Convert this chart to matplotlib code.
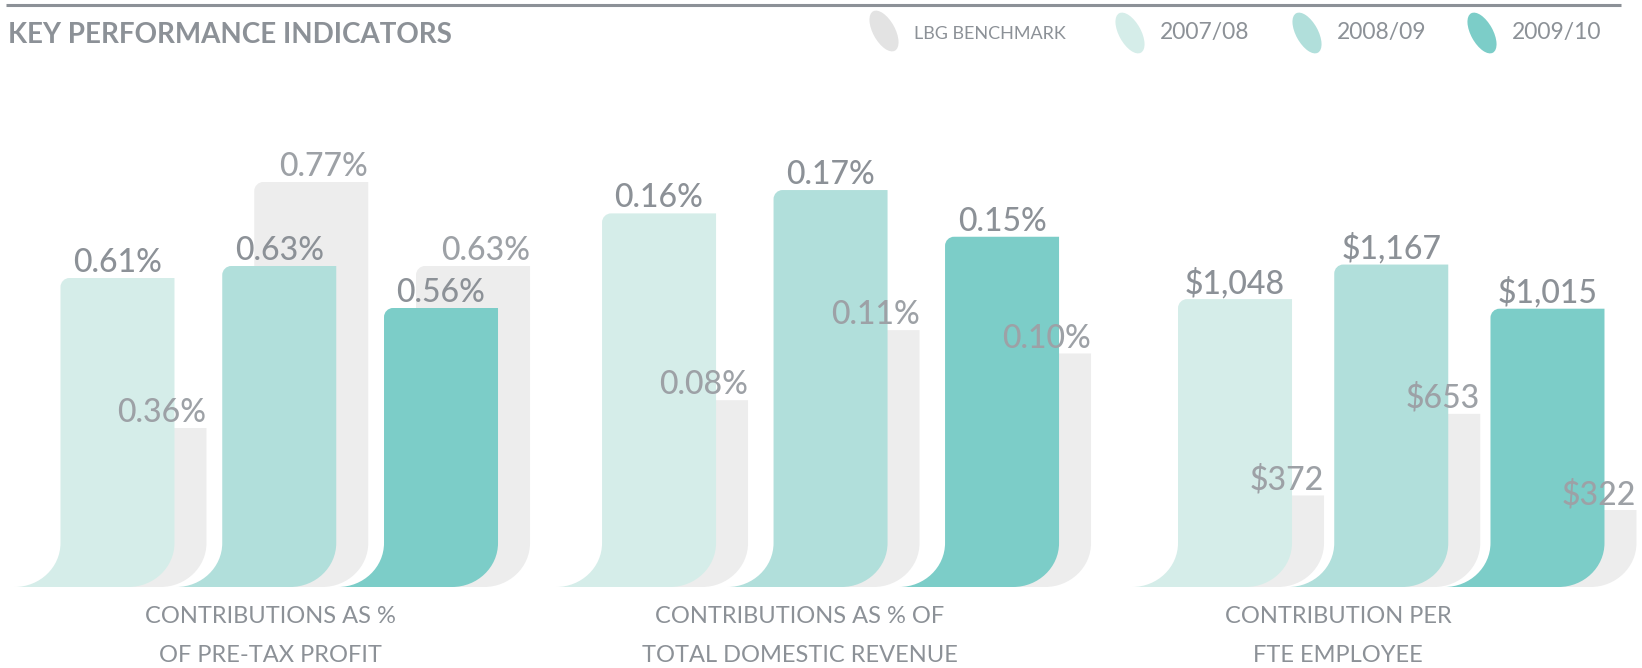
import matplotlib
matplotlib.use('Agg')
import matplotlib.pyplot as plt
from matplotlib.path import Path
from matplotlib.patches import PathPatch, Ellipse

# data
years = ['2007/08', '2008/09', '2009/10']
benchmark_name = 'LBG BENCHMARK'
categories = ['CONTRIBUTIONS AS %\nOF PRE-TAX PROFIT',
              'CONTRIBUTIONS AS % OF\nTOTAL DOMESTIC REVENUE',
              'CONTRIBUTION PER\nFTE EMPLOYEE']
pct_profit = [0.61, 0.63, 0.56]
pct_profit_lbg = [0.36, 0.77, 0.63]
pct_revenue = [0.16, 0.17, 0.15]
pct_revenue_lbg = [0.08, 0.11, 0.10]
per_fte = [1048, 1167, 1015]
per_fte_lbg = [372, 653, 322]

W, H = 1642, 668
TXT = '#8c9197'
TXT_LIGHT = '#9da1a6'
year_colors = ['#d5ede9', '#b1dfdb', '#7ccdc8']
gray = '#ededed'
FONT = 'Lato'

fig = plt.figure(figsize=(W / 100, H / 100), dpi=100)

def bar_path(left, right, top, base, sx, ry, cx, cy):
    k = 0.5523
    verts = [(left - sx, base),
             (left - sx + k * sx, base), (left, base + ry - k * ry), (left, base + ry),
             (left, top - cy),
             (left, top - cy + k * cy), (left + cx - k * cx, top), (left + cx, top),
             (right, top),
             (right, base + ry),
             (right, base + ry - k * ry), (right - sx + k * sx, base), (right - sx, base),
             (left - sx, base)]
    codes = ([Path.MOVETO] + [Path.CURVE4] * 3 + [Path.LINETO] + [Path.CURVE4] * 3 +
             [Path.LINETO, Path.LINETO] + [Path.CURVE4] * 3 + [Path.CLOSEPOLY])
    return Path(verts, codes)

# group layout: (x0 px, x1 px, axis floor, px per unit)
groups = [
    (pct_profit, pct_profit_lbg, '{:.2f}%', 36.6, 521.9, 0.095, 600.0, 270),
    (pct_revenue, pct_revenue_lbg, '{:.2f}%', 573.3, 1087.8, 0.0, 2335.0, 800),
    (per_fte, per_fte_lbg, '${:,.0f}', 1156.9, 1625.6, 57.0, 0.2905, 1338),
]
AX_H = 500
BAR_W = 114
G_OFF = 32
FLARE_X, FLARE_Y, CORNER = 46, 44, 9

for gi, (vals, bench, fmt, x0, x1, floor, scale, lab_x) in enumerate(groups):
    ax = fig.add_axes([x0 / W, 81 / H, (x1 - x0) / W, AX_H / H])
    ax.set_xlim(-0.5, 2.5)
    ax.set_ylim(floor, floor + AX_H / scale)
    ax.axis('off')
    pxx = (x1 - x0) / 3.0
    bw = BAR_W / pxx
    off = G_OFF / pxx
    sx, ry = FLARE_X / pxx, FLARE_Y / scale
    cx, cy = CORNER / pxx, CORNER / scale
    for i in range(len(vals)):
        l = i - bw / 2
        r = i + bw / 2
        gp = bar_path(l + off, r + off, bench[i], floor, sx, ry, cx, cy)
        ax.add_patch(PathPatch(gp, facecolor=gray, edgecolor='none', clip_on=False, zorder=1))
        cp = bar_path(l, r, vals[i], floor, sx, ry, cx, cy)
        ax.add_patch(PathPatch(cp, facecolor=year_colors[i], edgecolor='none', clip_on=False, zorder=2))
        ax.annotate(fmt.format(bench[i]), (r + off, bench[i]), xytext=(0, 6),
                    textcoords='offset pixels', ha='right', va='baseline',
                    fontsize=23, color=TXT_LIGHT, family=FONT, fontweight='medium',
                    zorder=3, annotation_clip=False)
        ax.annotate(fmt.format(vals[i]), (i, vals[i]), xytext=(0, 6),
                    textcoords='offset pixels', ha='center', va='baseline',
                    fontsize=23, color=TXT, family=FONT, fontweight='medium',
                    zorder=3, annotation_clip=False)
    line1, line2 = categories[gi].split('\n')
    fig.text(lab_x / W, 1 - 623 / H, line1, ha='center', va='baseline',
             fontsize=17, color=TXT, family=FONT)
    fig.text(lab_x / W, 1 - 662 / H, line2, ha='center', va='baseline',
             fontsize=17, color=TXT, family=FONT)

# header: rule, title, legend
ov = fig.add_axes([0, 0, 1, 1], zorder=-1)
ov.set_xlim(0, W)
ov.set_ylim(0, H)
ov.axis('off')
ov.plot([6, 1621], [H - 5, H - 5], color=TXT, lw=2.2, solid_capstyle='butt')
ov.text(8, H - 43, 'KEY PERFORMANCE INDICATORS', ha='left', va='baseline',
        fontsize=20, fontweight='bold', color=TXT, family=FONT)

leg = [(benchmark_name, '#e3e3e3', 884, 31, 13), (years[0], year_colors[0], 1130, 33, 16.5),
       (years[1], year_colors[1], 1307, 33, 16.5), (years[2], year_colors[2], 1482, 33, 16.5)]
for name, col, ecx, ecy, fs in leg:
    ov.add_patch(Ellipse((ecx, H - ecy), width=22, height=45, angle=29,
                         facecolor=col, edgecolor='none'))
    ov.text(ecx + 30, H - 39, name, ha='left', va='baseline', fontsize=fs,
            color=TXT, family=FONT)

fig.savefig('out.png', dpi=100)
